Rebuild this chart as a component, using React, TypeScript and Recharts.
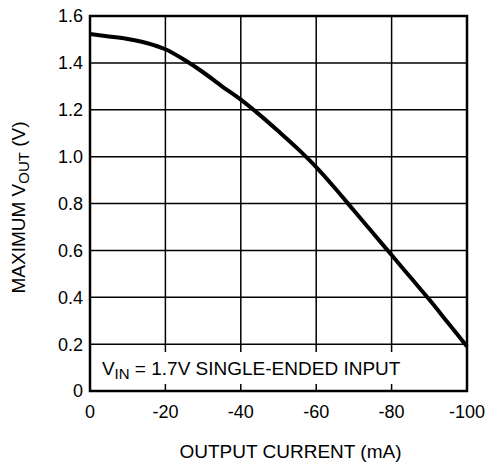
import { CartesianGrid, Label, Line, LineChart, ReferenceArea, XAxis, YAxis } from 'recharts'

const currentMa = [0, -5, -10, -15, -20, -25, -30, -35, -40, -45, -50, -55, -60, -65, -70, -75, -80, -85, -90, -95, -100]
const maxVout = [
	1.523, 1.513, 1.502, 1.485, 1.458, 1.413, 1.36, 1.3, 1.243, 1.178, 1.108, 1.035, 0.955, 0.865, 0.77, 0.675, 0.58, 0.485,
	0.39, 0.29, 0.19,
]
const xTicks = [0, -20, -40, -60, -80, -100]
const yTicks = [0, 0.2, 0.4, 0.6, 0.8, 1.0, 1.2, 1.4, 1.6]

const data = currentMa.map((x, i) => ({ x, v: maxVout[i] }))

const FONT = '"Liberation Sans", Arial, sans-serif'

function XTitle({ viewBox }: any) {
	const cx = viewBox.x + viewBox.width / 2 + 12
	return (
		<text x={cx} y={458} textAnchor='middle' fontSize={19} fontFamily={FONT} fill='#000'>
			OUTPUT CURRENT (mA)
		</text>
	)
}

function YTitle({ viewBox }: any) {
	const cx = 25
	const cy = viewBox.y + viewBox.height / 2 + 4
	return (
		<text
			x={cx}
			y={cy}
			transform={`rotate(-90 ${cx} ${cy})`}
			textAnchor='middle'
			fontSize={19}
			fontFamily={FONT}
			fill='#000'
		>
			MAXIMUM V
			<tspan dy={4} fontSize={15}>
				OUT
			</tspan>
			<tspan dy={-4}> (V)</tspan>
		</text>
	)
}

function Note({ viewBox }: any) {
	const x = viewBox.x + 7
	const y = viewBox.y + 23
	return (
		<text x={x} y={y} fontSize={19} fontFamily={FONT} fill='#000'>
			V
			<tspan dy={4} fontSize={15}>
				IN
			</tspan>
			<tspan dy={-4}> = 1.7V SINGLE-ENDED INPUT</tspan>
		</text>
	)
}

export default function App() {
	return (
		<div style={{ position: 'absolute', left: 0, top: 0, background: '#fff' }}>
			<LineChart width={485} height={466} data={data} margin={{ top: 16, right: 18, bottom: 0, left: 0 }}>
				<CartesianGrid stroke='#000' strokeWidth={1.5} />
				<XAxis
					dataKey='x'
					type='number'
					domain={[-100, 0]}
					reversed
					ticks={xTicks}
					height={75}
					axisLine={false}
					tickLine={false}
					tickSize={0}
					tickMargin={14}
					tick={{ fill: '#000', fontSize: 18, fontFamily: FONT }}
				>
					<Label content={XTitle} />
				</XAxis>
				<YAxis
					type='number'
					domain={[0, 1.6]}
					ticks={yTicks}
					width={90}
					axisLine={false}
					tickLine={false}
					tickSize={0}
					tickMargin={7}
					tickFormatter={(v: number) => (v === 0 ? '0' : v.toFixed(1))}
					tick={{ fill: '#000', fontSize: 18, fontFamily: FONT }}
				>
					<Label content={YTitle} />
				</YAxis>
				<ReferenceArea
					x1={-1.3}
					x2={-98.7}
					y1={0.03}
					y2={0.166}
					fill='#fff'
					fillOpacity={1}
					stroke='none'
					label={Note}
				/>
				<ReferenceArea x1={0} x2={-100} y1={0} y2={1.6} fill='none' stroke='#000' strokeWidth={2.5} />
				<Line
					type='monotone'
					dataKey='v'
					stroke='#000'
					strokeWidth={4}
					dot={false}
					isAnimationActive={false}
				/>
			</LineChart>
		</div>
	)
}
